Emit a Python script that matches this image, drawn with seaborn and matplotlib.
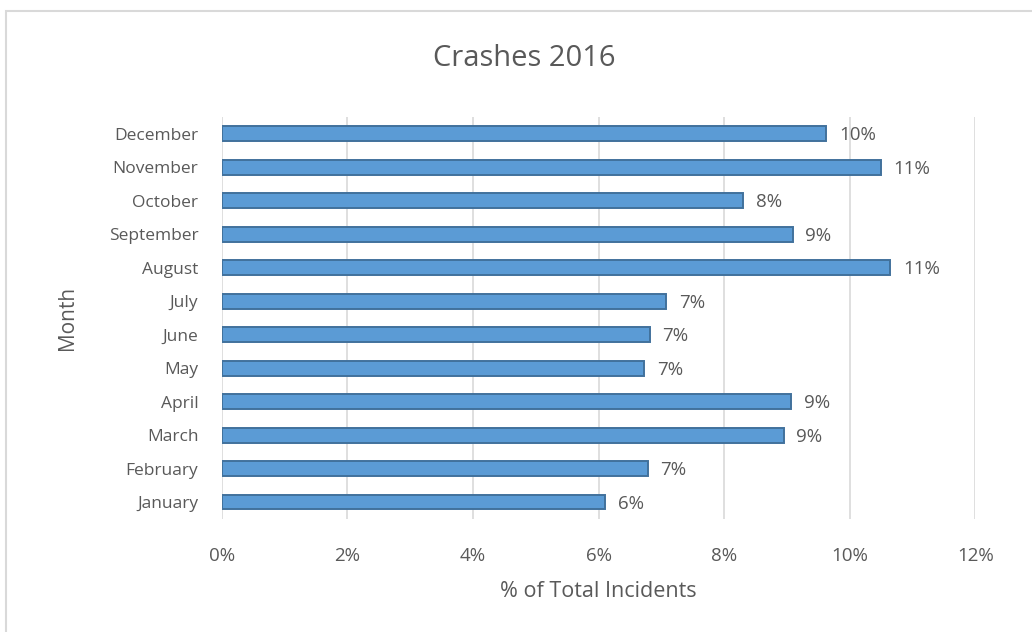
import matplotlib.pyplot as plt
import seaborn as sns
import pandas as pd
from matplotlib.patches import Rectangle
from matplotlib.ticker import PercentFormatter

months = ["December", "November", "October", "September", "August", "July",
          "June", "May", "April", "March", "February", "January"]
share = [9.63, 10.5, 8.3, 9.09, 10.65, 7.08, 6.82, 6.73, 9.07, 8.95, 6.78, 6.11]
labels = ["10%", "11%", "8%", "9%", "11%", "7%", "7%", "7%", "9%", "9%", "7%", "6%"]
x_ticks = [0, 2, 4, 6, 8, 10, 12]

df = pd.DataFrame({"Month": months, "Share": share})

sns.set_theme(style="white")
plt.rcParams['font.family'] = ['Open Sans', 'DejaVu Sans']
txt = "#595959"

fig = plt.figure(figsize=(10.32, 6.32), dpi=100)
ax = fig.add_axes([0.215, 0.179, 0.73, 0.636])

# chart-area frame (only left and top edges visible in the crop)
fig.patches.append(Rectangle((0.006, -0.1), 1.2, 0.1 + 0.982, transform=fig.transFigure,
                             fill=False, edgecolor="#d9d9d9", linewidth=1.5))

sns.barplot(data=df, x="Share", y="Month", order=months, color="#5b9bd5",
            saturation=1, width=0.44, edgecolor="#41719c", linewidth=1.4, ax=ax)

for i, (v, lab) in enumerate(zip(share, labels)):
    ax.text(v + 0.2, i + 0.05, lab, va="center", ha="left", fontsize=13.5, color=txt)

ax.set_xlim(0, 12)
ax.set_xticks(x_ticks)
ax.xaxis.set_major_formatter(PercentFormatter(decimals=0))
ax.grid(axis="x", color="#d9d9d9", linewidth=1.2)
ax.set_axisbelow(True)
for s in ax.spines.values():
    s.set_visible(False)
ax.tick_params(axis="x", colors=txt, labelsize=13.5, pad=20, length=0)
ax.tick_params(axis="y", colors=txt, labelsize=12.5, pad=17, length=0)
ax.set_xlabel("% of Total Incidents", fontsize=15.5, color=txt, labelpad=12)
ax.set_ylabel("Month", fontsize=15, color=txt, labelpad=22)

fig.text(0.508, 0.908, "Crashes 2016", ha="center", va="center", fontsize=21, color=txt)

fig.savefig("out.png", dpi=100)
